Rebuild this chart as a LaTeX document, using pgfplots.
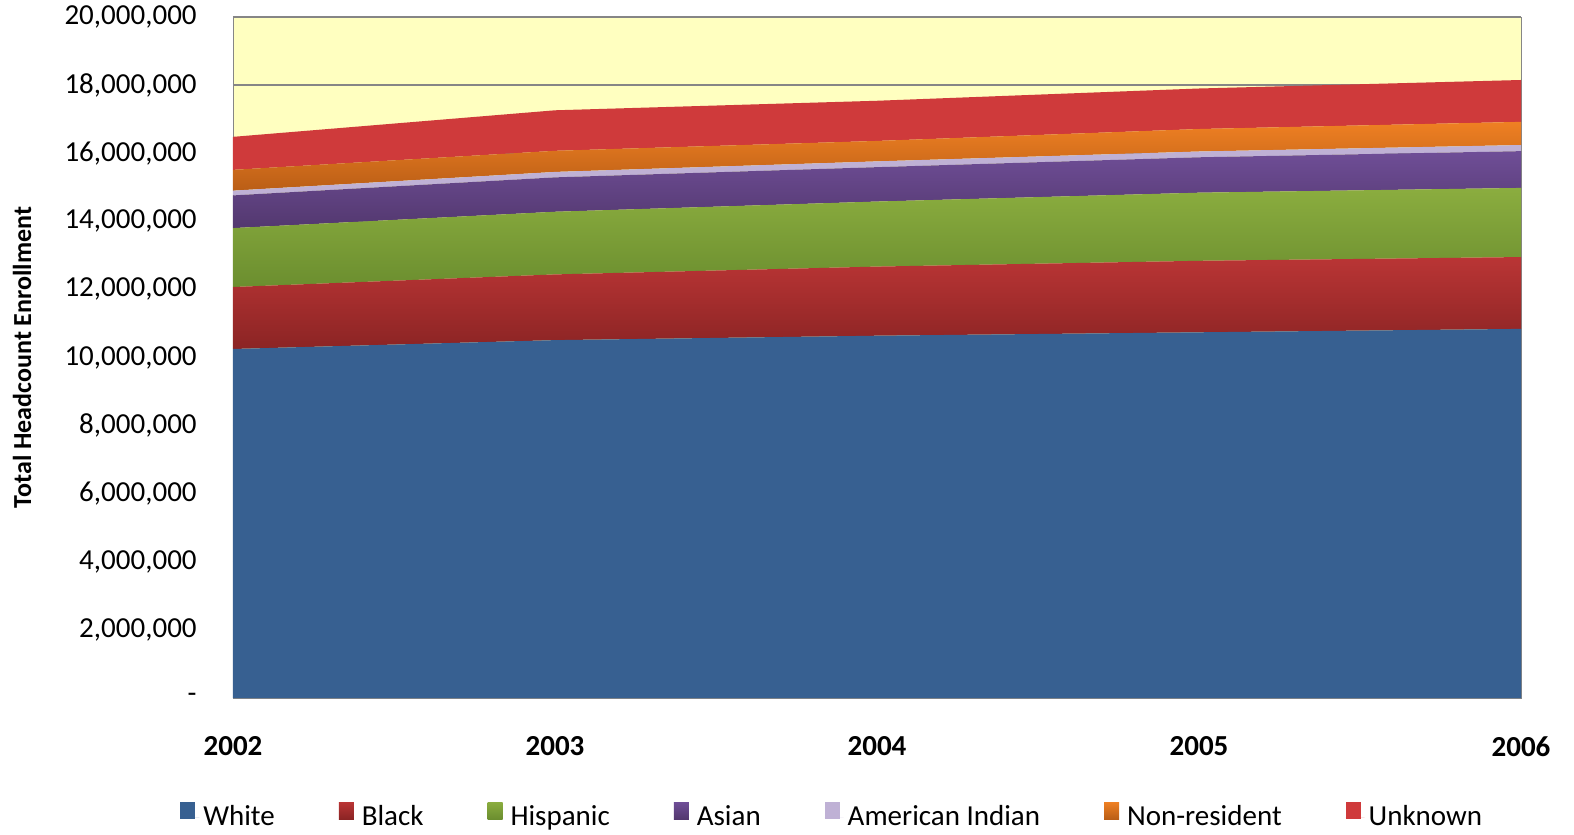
\documentclass[border=0pt]{standalone}
\usepackage{fontspec}
\setmainfont{Carlito}
\usepackage{pgfplots}
\pgfplotsset{compat=1.18}

\definecolor{cWhite}{RGB}{55,96,145}
\definecolor{cBlackT}{RGB}{186,53,53}
\definecolor{cBlackB}{RGB}{139,36,36}
\definecolor{cHispT}{RGB}{139,173,63}
\definecolor{cHispB}{RGB}{107,142,47}
\definecolor{cAsianT}{RGB}{111,78,151}
\definecolor{cAsianB}{RGB}{83,56,111}
\definecolor{cAmInd}{RGB}{191,177,213}
\definecolor{cNonResT}{RGB}{239,128,35}
\definecolor{cNonResB}{RGB}{186,94,22}
\definecolor{cUnknown}{RGB}{207,58,59}
\definecolor{cBack}{RGB}{255,255,192}
\definecolor{cAxis}{RGB}{134,134,134}

\newcommand{\chartfont}{\fontsize{14.5bp}{17bp}\selectfont}

\begin{document}
\begin{tikzpicture}
\useasboundingbox (-116.5bp,-68.5bp) rectangle (670.5bp,349bp);
\begin{axis}[
    at={(0,0)}, anchor=south west,
    scale only axis,
    width=644bp, height=340.5bp,
    xmin=2002, xmax=2006,
    ymin=0, ymax=20000000,
    stack plots=y,
    axis line style={cAxis},
    axis background/.style={fill=cBack},
    ymajorgrids,
    grid style={cAxis, line width=0.6bp},
    major tick length=0pt,
    xtick={2002,2003,2004,2005,2006},
    xticklabels={2002,2003,2004,2005,2006},
    ytick={0,2000000,4000000,6000000,8000000,10000000,12000000,14000000,16000000,18000000,20000000},
    yticklabels={{-\hspace{7bp}},{2,000,000},{4,000,000},{6,000,000},{8,000,000},{10,000,000},{12,000,000},{14,000,000},{16,000,000},{18,000,000},{20,000,000}},
    yticklabel style={font=\chartfont, inner sep=0pt, xshift=-18bp},
    xticklabel style={font=\chartfont\bfseries, inner sep=0pt, yshift=-19bp},
    ylabel={Total Headcount Enrollment},
    every axis y label/.style={at={(rel axis cs:0,0.5)}, xshift=-105.5bp, rotate=90, anchor=center, font=\fontsize{13bp}{15bp}\selectfont\bfseries},
    legend columns=7,
    legend style={at={(rel axis cs:0.466,0)}, yshift=-59.5bp, anchor=center,
        draw=none, fill=none, font=\chartfont,
        /tikz/every even column/.append style={column sep=30bp}},
    legend cell align=left,
    legend image code/.code={%
        \path[#1,draw=none] (0bp,-1bp) rectangle (7.5bp,7.5bp);
        \path (0bp,0bp) -- (9.5bp,0bp);},
]
\addplot[draw=none, fill=cWhite] coordinates {
    (2002,10250000) (2003,10510000) (2004,10640000) (2005,10740000) (2006,10840000)
} \closedcycle;
\addlegendentry{White}
\addplot[draw=none, top color=cBlackT, bottom color=cBlackB] coordinates {
    (2002,1820000) (2003,1930000) (2004,2030000) (2005,2100000) (2006,2110000)
} \closedcycle;
\addlegendentry{Black}
\addplot[draw=none, top color=cHispT, bottom color=cHispB] coordinates {
    (2002,1730000) (2003,1840000) (2004,1910000) (2005,2000000) (2006,2030000)
} \closedcycle;
\addlegendentry{Hispanic}
\addplot[draw=none, top color=cAsianT, bottom color=cAsianB] coordinates {
    (2002,960000) (2003,1010000) (2004,1010000) (2005,1040000) (2006,1080000)
} \closedcycle;
\addlegendentry{Asian}
\addplot[draw=none, fill=cAmInd] coordinates {
    (2002,140000) (2003,160000) (2004,170000) (2005,170000) (2006,180000)
} \closedcycle;
\addlegendentry{American Indian}
\addplot[draw=none, top color=cNonResT, bottom color=cNonResB] coordinates {
    (2002,610000) (2003,620000) (2004,600000) (2005,660000) (2006,680000)
} \closedcycle;
\addlegendentry{Non-resident}
\addplot[draw=none, fill=cUnknown] coordinates {
    (2002,970000) (2003,1190000) (2004,1180000) (2005,1190000) (2006,1230000)
} \closedcycle;
\addlegendentry{Unknown}
\end{axis}
\end{tikzpicture}
\end{document}
